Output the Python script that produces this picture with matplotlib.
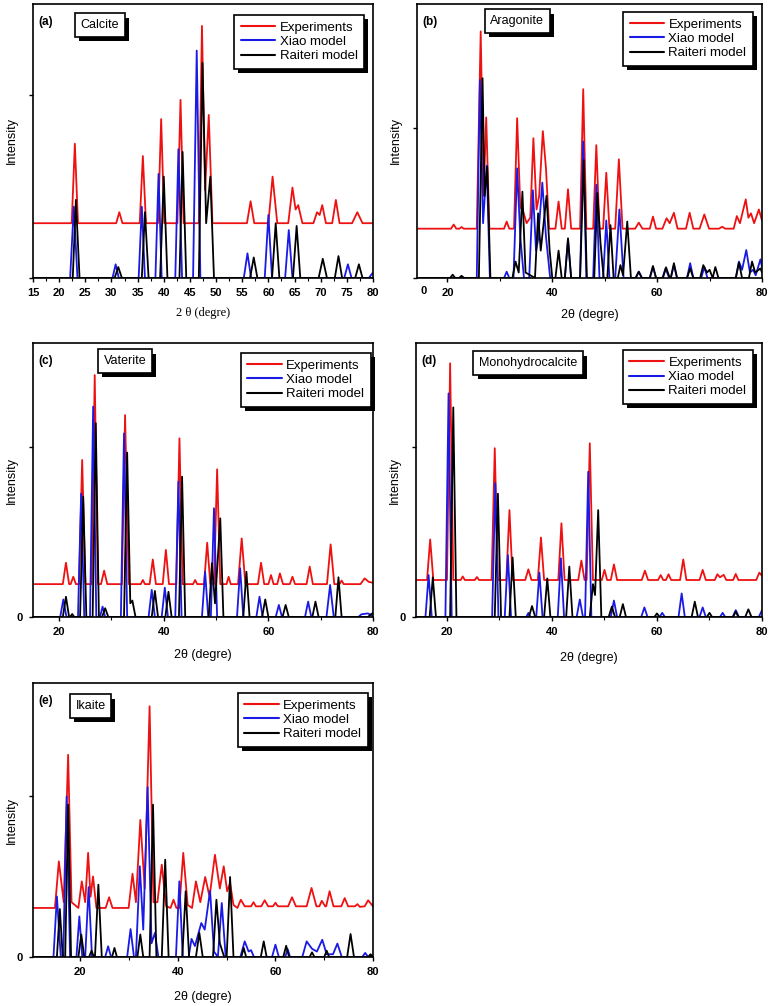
import matplotlib.pyplot as plt
import matplotlib.patheffects as pe
from matplotlib.ticker import MultipleLocator

plt.rcParams['font.family'] = ['Liberation Sans', 'DejaVu Sans']

# intensity in % of the axis height
calcite_exp = [(15,20),(22.4,20),(23.0,49),(23.6,20),(30.9,20),(31.5,24),(32.1,20),(35.4,20),(36.0,44.5),(36.6,20),
               (38.9,20),(39.5,58),(40.1,20),(42.6,20),(43.2,65),(43.8,20),(46.7,20),(47.3,92),(47.9,32),(48.6,59.5),
               (49.3,20),(55.9,20),(56.6,28),(57.3,20),(60.0,20),(60.8,37),(61.7,20),(63.8,20),(64.6,33),(65.2,25),
               (65.7,26.6),(66.5,20),(68.6,20),(69.3,24),(69.8,23),(70.3,26.6),(71.0,20),(72.2,20),(72.9,28.5),
               (73.6,20),(76.0,20),(77.0,24),(78.0,20),(80,20)]
calcite_xiao = [(15,0),(22.1,0),(22.8,26),(23.5,0),(30.2,0),(30.8,5),(31.4,0),(35.2,0),(35.8,26),(36.4,0),(38.4,0),
                (39.0,38),(39.6,0),(42.2,0),(42.8,47),(43.5,0),(45.6,0),(46.3,83),(47.0,0),(55.3,0),(56.0,9),(56.7,0),
                (59.3,0),(60.0,23),(60.7,0),(63.2,0),(63.9,17.5),(64.6,0),(74.5,0),(75.2,5),(75.9,0),(79.2,0),(80,2)]
calcite_raiteri = [(15,0),(22.6,0),(23.2,28.5),(23.9,0),(30.6,0),(31.3,4),(32.0,0),(35.8,0),(36.4,24),(37.1,0),
                   (39.3,0),(40.0,37),(40.7,0),(43.0,0),(43.6,46),(44.3,0),(46.7,0),(47.4,78.5),(48.1,20),(48.9,37),
                   (49.6,0),(56.5,0),(57.2,7.5),(57.9,0),(60.7,0),(61.4,20),(62.1,0),(64.7,0),(65.4,19),(66.1,0),
                   (69.6,0),(70.4,7),(71.2,0),(72.7,0),(73.4,8),(74.1,0),(76.6,0),(77.3,5),(78.0,0),(80,0)]

aragonite_exp = [(14,18),(20.7,18),(21.2,19.5),(21.7,18),(22.3,18),(22.7,18.6),(23.1,18),(25.6,18),(26.35,90),
                 (26.9,30),(27.4,58.6),(28.0,18),(30.8,18),(31.3,20.6),(31.8,18),(32.7,18),(33.3,58.3),(33.9,26),
                 (34.5,24),(35.1,20),(35.8,22),(36.4,51),(37.0,25),(37.5,30),(38.2,53.6),(38.8,40),(39.4,18),
                 (40.6,18),(41.2,27.9),(41.8,18),(42.4,18),(43.0,32.4),(43.6,18),(45.3,18),(45.9,68.9),(46.5,18),
                 (47.8,18),(48.4,48.5),(49.0,18),(49.7,18),(50.3,38.4),(50.9,18),(52.0,18),(52.7,43.3),(53.4,18),
                 (55.8,18),(56.5,20.2),(57.2,18),(58.6,18),(59.2,22.4),(59.8,18),(61.0,18),(61.8,21.8),(62.4,20),
                 (63.2,23.8),(63.9,18),(65.5,18),(66.2,23.8),(66.9,18),(68.1,18),(69.0,23.2),(69.9,18),(71.8,18),
                 (72.4,18.7),(73.0,18),(74.6,18),(75.2,22.6),(75.8,20),(76.9,28.7),(77.4,22),(77.9,23.6),(78.5,20),
                 (79.4,25),(80,21)]
aragonite_xiao = [(14,0),(25.6,0),(26.2,72.3),(26.8,20),(27.5,41),(28.1,0),(30.8,0),(31.3,2.3),(31.8,0),(32.6,0),
                  (33.3,40),(33.9,15),(34.6,0),(35.6,0),(36.3,32),(36.9,10),(37.3,14),(38.1,34.8),(38.8,15),(39.6,0),
                  (42.4,0),(43.0,14),(43.6,0),(45.3,0),(45.9,49.8),(46.5,0),(47.8,0),(48.4,34),(49.0,0),(49.7,0),
                  (50.3,21),(50.9,0),(52.0,0),(52.8,25),(53.6,0),(55.9,0),(56.5,2.3),(57.1,0),(58.6,0),(59.2,4),
                  (59.8,0),(61.0,0),(61.6,3.5),(62.3,0),(62.6,0),(63.2,4.7),(63.8,0),(65.7,0),(66.3,5.4),(66.9,0),
                  (68.4,0),(69.0,4),(69.6,0),(75.0,0),(75.6,6),(76.2,3),(77.0,10.2),(77.7,2),(78.3,3),(78.8,1),
                  (79.7,6.8),(80,4)]
aragonite_raiteri = [(14,0),(20.5,0),(21.0,1.2),(21.5,0),(22.2,0),(22.7,0.8),(23.2,0),(26.0,0),(26.7,72.9),(27.1,30),
                     (27.6,40.6),(28.2,0),(32.4,0),(33.0,6),(33.6,2),(34.3,31.5),(34.9,2),(36.7,0),(37.3,23.6),
                     (37.8,10),(38.9,30),(39.5,10),(40.0,0),(40.6,0),(41.2,10),(41.8,0),(42.4,0),(43.0,14.5),
                     (43.6,0),(45.3,0),(46.0,43),(46.6,0),(48.0,0),(48.6,31),(49.2,12.7),(49.8,0),(50.5,0),
                     (51.1,19.3),(51.7,0),(52.5,0),(53.0,4.7),(53.5,1),(54.3,20.6),(55.0,0),(55.9,0),(56.5,2.3),
                     (57.1,0),(58.6,0),(59.2,4.4),(59.8,0),(61.1,0),(61.7,3.9),(62.4,0),(62.6,0),(63.2,5.4),
                     (63.8,0),(65.7,0),(66.3,3.5),(66.9,0),(68.2,0),(68.8,4.7),(69.5,2),(70.0,3),(70.6,0),
                     (71.1,4),(71.7,0),(75.0,0),(75.6,5.6),(76.2,0),(77.5,0),(78.1,6),(78.7,2),(79.7,3.5),(80,2)]

vaterite_exp = [(15,12),(20.7,12),(21.3,19.8),(21.9,12),(22.2,12),(22.7,14.7),(23.2,12),(23.8,12),(24.4,57.3),
                (25.0,12),(26.2,12),(26.8,88.3),(27.4,12),(28.0,12),(28.6,16.9),(29.2,12),(32.0,12),(32.6,73.7),
                (33.3,12),(35.6,12),(36.0,13.5),(36.4,12),(37.3,12),(37.9,21),(38.5,12),(39.8,12),(40.4,24.5),
                (41.0,12),(42.4,12),(43.0,65.2),(43.6,12),(45.6,12),(46.0,13.5),(46.4,12),(47.7,12),(48.3,27.1),
                (48.9,12),(49.6,12),(50.2,53.9),(50.8,12),(52.0,12),(52.4,14.7),(52.8,12),(54.2,12),(54.9,28.7),
                (55.6,12),(58.0,12),(58.6,19.8),(59.2,12),(60.0,12),(60.5,15.3),(61.0,12),(61.7,12),(62.2,15.9),
                (62.8,12),(64.1,12),(64.6,14.7),(65.1,12),(67.3,12),(67.9,18.4),(68.5,12),(71.2,12),(71.9,26.5),
                (72.6,12),(73.6,12),(74.0,13.3),(74.4,12),(77.6,12),(78.4,14.1),(79.2,12.8),(80,12.5)]
vaterite_xiao = [(15,0),(20.2,0),(20.8,6.4),(21.4,0),(23.6,0),(24.2,45),(24.8,0),(25.9,0),(26.5,76.8),(27.1,0),
                 (27.8,0),(28.3,3.8),(28.8,0),(31.8,0),(32.4,67),(33.0,0),(37.1,0),(37.7,9.9),(38.3,0),(39.6,0),
                 (40.2,10.7),(40.8,0),(42.2,0),(42.8,49.4),(43.4,0),(47.3,0),(47.9,16.5),(48.5,0),(49.0,0),
                 (49.6,39.7),(50.2,0),(54.0,0),(54.6,17.8),(55.2,0),(57.7,0),(58.3,7.4),(58.9,0),(61.4,0),(62.0,4.4),
                 (62.6,0),(67.0,0),(67.6,5.6),(68.2,0),(71.1,0),(71.8,11.7),(72.5,0),(77.2,0),(77.8,1),(79.0,1.3),
                 (80,0.5)]
vaterite_raiteri = [(15,0),(20.7,0),(21.3,7.4),(21.9,0),(22.1,0),(22.5,1.1),(22.9,0),(24.0,0),(24.6,43.9),(25.2,0),
                    (26.4,0),(27.0,70.7),(27.6,0),(28.2,0),(28.8,3.2),(29.4,0),(32.4,0),(33.0,60),(33.6,5),(34.0,6),
                    (34.6,0),(37.7,0),(38.3,9.5),(38.9,0),(40.3,0),(40.9,9.2),(41.5,0),(42.9,0),(43.5,51.2),
                    (44.1,0),(48.6,0),(49.2,19.6),(49.8,5),(50.8,36),(51.4,0),(55.2,0),(55.8,16.5),(56.4,0),
                    (58.8,0),(59.4,6.4),(60.0,0),(62.7,0),(63.3,4.4),(63.9,0),(68.4,0),(69.0,5.6),(69.6,0),
                    (72.8,0),(73.4,14.5),(74.0,0),(79.0,0),(80,1.5)]

mono_exp = [(14,13.5),(16.2,13.5),(16.8,28.3),(17.4,13.5),(20.0,13.5),(20.6,92.6),(21.2,13.5),(22.6,13.5),
            (23.0,14.8),(23.4,13.5),(25.3,13.5),(25.7,14.6),(26.1,13.5),(28.5,13.5),(29.1,61.6),(29.7,13.5),
            (31.3,13.5),(31.9,39),(32.5,13.5),(34.9,13.5),(35.5,17.4),(36.1,13.5),(37.3,13.5),(37.9,29),(38.5,13.5),
            (41.2,13.5),(41.8,34.2),(42.4,13.5),(45.0,13.5),(45.6,20.6),(46.2,13.5),(46.6,13.5),(47.2,63.4),
            (47.8,13.5),(49.5,13.5),(50.0,17.2),(50.5,13.5),(51.2,13.5),(51.8,19.2),(52.4,13.5),(57.1,13.5),
            (57.7,16.9),(58.3,13.5),(60.2,13.5),(60.7,15.3),(61.2,13.5),(61.7,13.5),(62.2,15.6),(62.7,13.5),
            (64.4,13.5),(65.0,21),(65.6,13.5),(68.1,13.5),(68.7,17.2),(69.3,13.5),(71.0,13.5),(71.5,15.6),
            (72.0,14.5),(72.7,15.4),(73.2,13.5),(74.5,13.5),(75.0,15.7),(75.5,13.5),(78.9,13.5),(79.5,16.2),(80,15)]
mono_xiao = [(14,0),(15.9,0),(16.5,15.3),(17.1,0),(19.7,0),(20.3,81.6),(20.9,0),(28.6,0),(29.2,48.8),(29.8,0),
             (31.0,0),(31.6,22.6),(32.2,0),(35.1,0),(35.5,1.5),(35.9,0),(37.0,0),(37.6,16.2),(38.2,0),(41.1,0),
             (41.7,21.4),(42.3,0),(44.7,0),(45.3,6.4),(45.9,0),(46.3,0),(46.9,53),(47.5,0),(51.2,0),(51.8,6),
             (52.4,0),(57.0,0),(57.6,3.5),(58.2,0),(60.5,0),(61.0,1.5),(61.5,0),(64.1,0),(64.7,8.6),(65.3,0),
             (68.1,0),(68.7,3.5),(69.3,0),(72.0,0),(72.5,1.5),(73.0,0),(74.4,0),(75.0,2.5),(75.6,0),(79.4,0),(80,2.5)]
mono_raiteri = [(14,0),(16.7,0),(17.3,14.5),(17.9,0),(20.6,0),(21.2,76.5),(21.8,0),(29.1,0),(29.7,45),(30.3,0),
                (31.9,0),(32.5,21.7),(33.1,0),(35.6,0),(36.2,4),(36.8,0),(38.5,0),(39.1,14.1),(39.7,0),(42.7,0),
                (43.3,18.4),(43.9,0),(47.2,0),(47.8,12),(48.2,8),(48.8,39),(49.4,0),(50.8,0),(51.4,3.8),(52.0,0),
                (52.9,0),(53.5,4.7),(54.1,0),(59.5,0),(60.0,1.3),(60.5,0),(66.6,0),(67.2,5.6),(67.8,0),(69.5,0),
                (70.0,1.5),(70.5,0),(74.5,0),(75.0,2),(75.5,0),(76.8,0),(77.4,2.8),(78.0,0),(80,0)]

ikaite_exp = [(10,17.9),(14.8,17.9),(15.6,34.9),(16.6,20),(17.5,73.8),(18.2,20),(19.6,17.9),(20.3,27.6),(21.0,20),
              (21.6,38),(22.1,22),(22.6,29.4),(23.3,17.9),(25.2,17.9),(25.9,21.8),(26.6,17.9),(29.9,17.9),(30.7,30.4),
              (31.4,20),(32.3,50),(33.2,25),(34.2,91.5),(35.0,20),(35.8,20),(36.7,33.7),(37.6,18.5),(38.5,17.9),
              (39.1,20.9),(39.7,17.9),(40.3,17.9),(41.1,38),(42.0,19),(42.9,17.9),(43.7,27.6),(44.6,20),(45.6,29.2),
              (46.5,22),(47.6,37.3),(48.6,25),(49.4,33.1),(50.1,24),(50.7,27),(51.4,19),(52.2,17.9),(52.9,20.9),
              (53.7,18.5),(55.0,18.5),(55.5,20),(56.0,18.5),(57.1,18.5),(57.8,20.7),(58.5,18.5),(59.5,18.5),
              (60.0,19.8),(60.5,18.5),(62.6,18.5),(63.4,21.8),(64.2,18.5),(66.4,18.5),(67.4,25.2),(68.4,18.5),
              (69.0,18.5),(69.5,20.5),(70.2,18.5),(70.4,18.5),(71.1,24),(71.9,18.5),(73.5,18.5),(74.2,21.5),
              (74.9,18.5),(76.3,18.5),(76.8,19.3),(77.3,18.3),(78.3,18.5),(79.0,20.7),(80,18.5)]
ikaite_xiao = [(10,0),(14.5,0),(15.2,22.1),(16.0,0),(16.5,0),(17.2,58.6),(17.9,0),(19.2,0),(19.8,14.8),(20.4,0),
               (21.0,0),(21.7,25.5),(22.4,0),(25.1,0),(25.7,3.9),(26.3,0),(29.6,0),(30.3,10.2),(31.0,0),(31.4,0),
               (32.2,33.1),(32.9,10),(33.8,62),(34.6,5),(35.3,8.8),(36.0,0),(39.6,0),(40.3,27.6),(41.0,0),(42.2,0),
               (42.8,6.6),(43.5,4),(44.8,12.4),(45.5,10),(46.6,24.2),(47.4,2),(48.2,0),(49.0,19.7),(49.8,0),
               (52.8,0),(53.7,5.7),(54.5,2),(55.0,2.5),(55.6,0),(59.3,0),(60.0,4.5),(60.7,0),(62.0,0),(62.5,2.9),
               (63.0,0),(65.5,0),(66.4,5.7),(67.5,3),(68.5,2),(69.6,6.3),(70.5,1),(71.8,1),(72.7,4.9),(73.6,0),
               (77.8,0),(78.4,1.5),(79.0,0),(80,0.5)]
ikaite_raiteri = [(10,0),(15.2,0),(15.8,17.5),(16.4,0),(16.9,0),(17.5,55.6),(18.1,0),(19.6,0),(20.2,8.2),(20.8,0),
                  (21.8,0),(22.3,2.3),(22.8,0),(23.0,0),(23.7,26.4),(24.4,0),(26.5,0),(27.0,3.3),(27.5,0),(31.7,0),
                  (32.3,8.2),(32.9,0),(34.2,0),(34.9,55.6),(35.6,0),(36.7,0),(37.4,35.5),(38.1,0),(40.9,0),
                  (41.6,24),(42.3,0),(43.7,0),(44.4,8.8),(45.1,0),(47.2,0),(47.9,20.9),(48.6,5),(49.5,0),(50.0,0),
                  (50.7,29.2),(51.4,0),(53.0,0),(53.5,3.3),(54.0,0),(57.0,0),(57.6,5.7),(58.2,0),(61.6,0),(62.2,4.1),
                  (62.8,0),(67.0,0),(67.5,1.7),(68.0,0),(70.0,0),(70.5,2.3),(71.0,0),(74.7,0),(75.4,8.4),(76.1,0),
                  (79.0,0),(79.5,1),(80,0)]

minerals = ['Calcite', 'Aragonite', 'Vaterite', 'Monohydrocalcite', 'Ikaite']
tags = ['(a)', '(b)', '(c)', '(d)', '(e)']
series_labels = ['Experiments', 'Xiao model', 'Raiteri model']
data = [(calcite_exp, calcite_xiao, calcite_raiteri),
        (aragonite_exp, aragonite_xiao, aragonite_raiteri),
        (vaterite_exp, vaterite_xiao, vaterite_raiteri),
        (mono_exp, mono_xiao, mono_raiteri),
        (ikaite_exp, ikaite_xiao, ikaite_raiteri)]
xlims = [(15, 80), (14.2, 80), (15, 80), (14.1, 80), (10.3, 80)]
ytick_pos = [66.8, 54.7, 62, 62, 58.8]
xlabels = ['2 \u03b8 (degre)', '2\u03b8 (degre)', '2\u03b8 (degre)', '2\u03b8 (degre)', '2\u03b8 (degre)']

colors = ['#ee1111', '#1a1ae6', 'black']

# axes boxes in pixels: left, top, right, bottom
boxes = [(33, 4, 373, 278), (417, 4, 762, 278), (33, 343, 373, 617), (416, 343, 762, 617), (33, 683, 373, 957)]
label_box_pos = [(0.196, 0.923), (0.291, 0.938), (0.27, 0.934), (0.324, 0.927), (0.169, 0.916)]
legend_pos = [(0.974, 0.96), (0.974, 0.971), (0.994, 0.964), (0.974, 0.974), (0.985, 0.964)]
xlabel_y = [-0.128, -0.135, -0.139, -0.15, -0.146]

W, H = 768, 1006
fig = plt.figure(figsize=(W / 100, H / 100), dpi=100)
shadow = [pe.SimplePatchShadow(offset=(3, -3), shadow_rgbFace='black', alpha=1), pe.Normal()]

for i in range(5):
    l, t, r, b = boxes[i]
    ax = fig.add_axes([l / W, 1 - b / H, (r - l) / W, (b - t) / H])
    for s in range(3):
        xs = [p[0] for p in data[i][s]]
        ys = [p[1] for p in data[i][s]]
        ax.plot(xs, ys, color=colors[s], lw=1.3, label=series_labels[s],
                solid_joinstyle='round', solid_capstyle='round')
    ax.set_xlim(*xlims[i])
    ax.set_ylim(0, 100)
    if i == 0:
        ax.set_xticks(range(15, 81, 5))
        ax.xaxis.set_minor_locator(MultipleLocator(2.5))
    else:
        ax.set_xticks([20, 40, 60, 80])
        ax.xaxis.set_minor_locator(MultipleLocator(10))
    ax.set_yticks([0, ytick_pos[i]])
    if i >= 2:
        ax.set_yticklabels(['0', ''])
    else:
        ax.set_yticklabels(['', ''])
    ax.tick_params(axis='both', which='major', length=3, width=1, labelsize=8, pad=4.5)
    ax.tick_params(axis='x', which='minor', length=2, width=0.8)
    for lab in ax.get_xticklabels() + ax.get_yticklabels():
        lab.set_fontweight('bold')
    for sp in ax.spines.values():
        sp.set_linewidth(1.2)
    ax.set_ylabel('Intensity', fontsize=9)
    ax.yaxis.set_label_coords(-0.062, 0.5)
    ax.yaxis.label.set_va('center')
    if i == 0:
        ax.set_xlabel(xlabels[i], fontsize=9, family=['Liberation Serif', 'DejaVu Serif'])
    else:
        ax.set_xlabel(xlabels[i], fontsize=9)
    ax.xaxis.set_label_coords(0.5, xlabel_y[i])
    ax.xaxis.label.set_va('center')
    if i == 1:
        ax.text(0.009, -0.03, '0', transform=ax.transAxes, fontsize=8, fontweight='bold', va='top', ha='left')

    ax.text(0.015, 0.935, tags[i], transform=ax.transAxes, fontsize=8.5, fontweight='bold', va='center')
    lb = ax.text(label_box_pos[i][0], label_box_pos[i][1], minerals[i], transform=ax.transAxes,
                 fontsize=9, ha='center', va='center',
                 bbox=dict(boxstyle='square,pad=0.45', fc='white', ec='black', lw=1.2))
    lb.get_bbox_patch().set_path_effects(shadow)

    leg = ax.legend(loc='upper right', bbox_to_anchor=legend_pos[i], borderaxespad=0, fontsize=9.5,
                    fancybox=False, edgecolor='black', framealpha=1, handlelength=2.6, handletextpad=0.35,
                    labelspacing=0.15, borderpad=0.5)
    leg.get_frame().set_linewidth(1.2)
    leg.get_frame().set_path_effects(shadow)
    for ln in leg.get_lines():
        ln.set_linewidth(1.5)

fig.savefig('out.png', dpi=100)
